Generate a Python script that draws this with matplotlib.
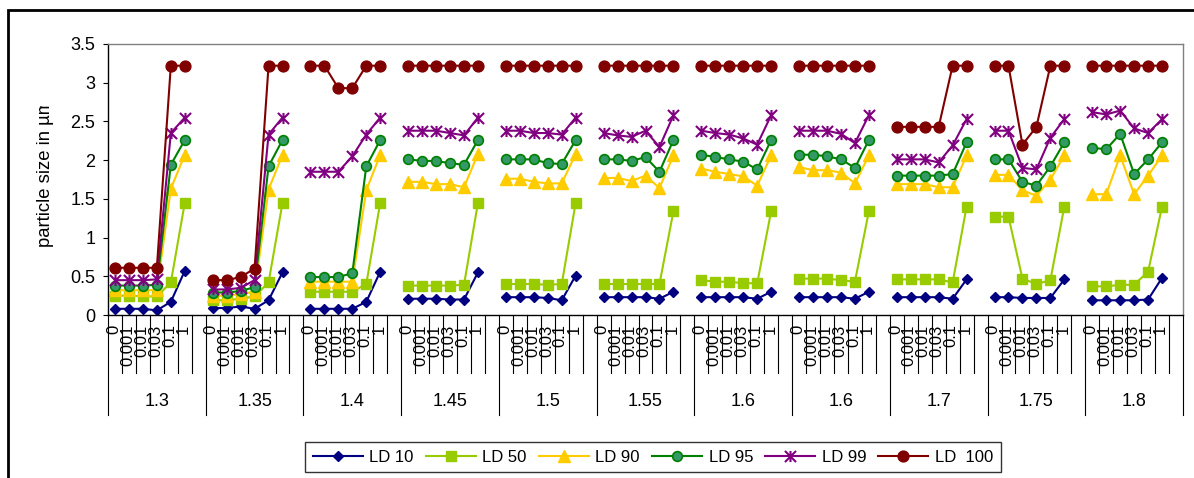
import numpy as np
import matplotlib
matplotlib.use("Agg")
import matplotlib.pyplot as plt
from matplotlib.path import Path
from matplotlib.patches import Rectangle

plt.rcParams['font.family'] = ['Liberation Sans', 'DejaVu Sans']

# Outer category (group) labels and inner category labels
groups = ["1.3", "1.35", "1.4", "1.45", "1.5", "1.55", "1.6", "1.6", "1.7", "1.75", "1.8"]
concentrations = ["0", "0.001", "0.01", "0.03", "0.1", "1", ""]

# Particle sizes (µm) for each group, one list of six values per group
ld10 = [
    [0.08, 0.08, 0.08, 0.06, 0.17, 0.57],
    [0.09, 0.09, 0.11, 0.08, 0.19, 0.55],
    [0.08, 0.08, 0.08, 0.08, 0.17, 0.56],
    [0.21, 0.21, 0.21, 0.20, 0.20, 0.55],
    [0.23, 0.23, 0.23, 0.22, 0.19, 0.51],
    [0.23, 0.23, 0.23, 0.23, 0.21, 0.30],
    [0.23, 0.23, 0.23, 0.23, 0.21, 0.30],
    [0.23, 0.23, 0.23, 0.23, 0.21, 0.30],
    [0.23, 0.23, 0.23, 0.23, 0.21, 0.46],
    [0.23, 0.23, 0.22, 0.22, 0.22, 0.46],
    [0.19, 0.19, 0.19, 0.19, 0.20, 0.48],
]
ld50 = [
    [0.25, 0.25, 0.24, 0.24, 0.42, 1.45],
    [0.19, 0.19, 0.21, 0.24, 0.42, 1.45],
    [0.30, 0.30, 0.30, 0.30, 0.40, 1.45],
    [0.38, 0.38, 0.38, 0.38, 0.39, 1.45],
    [0.40, 0.40, 0.40, 0.39, 0.40, 1.45],
    [0.40, 0.40, 0.40, 0.40, 0.40, 1.34],
    [0.45, 0.43, 0.43, 0.41, 0.41, 1.34],
    [0.47, 0.47, 0.47, 0.45, 0.43, 1.34],
    [0.46, 0.46, 0.46, 0.46, 0.42, 1.40],
    [1.27, 1.27, 0.47, 0.40, 0.45, 1.40],
    [0.37, 0.37, 0.39, 0.39, 0.56, 1.40],
]
ld90 = [
    [0.32, 0.32, 0.32, 0.32, 1.63, 2.07],
    [0.25, 0.25, 0.27, 0.30, 1.62, 2.07],
    [0.43, 0.43, 0.43, 0.43, 1.61, 2.07],
    [1.72, 1.72, 1.69, 1.69, 1.65, 2.08],
    [1.76, 1.76, 1.72, 1.70, 1.70, 2.08],
    [1.77, 1.77, 1.73, 1.80, 1.64, 2.06],
    [1.89, 1.85, 1.82, 1.79, 1.67, 2.06],
    [1.91, 1.87, 1.87, 1.84, 1.70, 2.06],
    [1.69, 1.69, 1.69, 1.65, 1.65, 2.06],
    [1.81, 1.81, 1.61, 1.54, 1.75, 2.06],
    [1.56, 1.56, 2.06, 1.56, 1.80, 2.06],
]
ld95 = [
    [0.38, 0.38, 0.38, 0.39, 1.94, 2.26],
    [0.29, 0.29, 0.31, 0.36, 1.92, 2.26],
    [0.49, 0.49, 0.49, 0.54, 1.92, 2.26],
    [2.01, 1.99, 1.99, 1.96, 1.94, 2.26],
    [2.01, 2.01, 2.01, 1.96, 1.95, 2.26],
    [2.01, 2.01, 1.99, 2.04, 1.85, 2.26],
    [2.07, 2.04, 2.01, 1.98, 1.88, 2.26],
    [2.07, 2.07, 2.05, 2.01, 1.90, 2.26],
    [1.80, 1.80, 1.80, 1.80, 1.82, 2.23],
    [2.01, 2.01, 1.72, 1.67, 1.92, 2.23],
    [2.16, 2.14, 2.34, 1.82, 2.01, 2.23],
]
ld99 = [
    [0.45, 0.45, 0.45, 0.46, 2.35, 2.55],
    [0.33, 0.33, 0.35, 0.45, 2.33, 2.55],
    [1.85, 1.85, 1.85, 2.05, 2.33, 2.55],
    [2.38, 2.38, 2.38, 2.35, 2.32, 2.55],
    [2.38, 2.38, 2.35, 2.35, 2.33, 2.55],
    [2.35, 2.32, 2.30, 2.38, 2.17, 2.58],
    [2.38, 2.35, 2.33, 2.28, 2.20, 2.58],
    [2.38, 2.38, 2.38, 2.34, 2.22, 2.58],
    [2.01, 2.01, 2.01, 1.97, 2.19, 2.53],
    [2.38, 2.38, 1.90, 1.88, 2.29, 2.53],
    [2.62, 2.59, 2.64, 2.41, 2.35, 2.53],
]
ld100 = [
    [0.61, 0.61, 0.61, 0.61, 3.22, 3.22],
    [0.45, 0.45, 0.49, 0.60, 3.22, 3.22],
    [3.22, 3.22, 2.93, 2.93, 3.22, 3.22],
    [3.22, 3.22, 3.22, 3.22, 3.22, 3.22],
    [3.22, 3.22, 3.22, 3.22, 3.22, 3.22],
    [3.22, 3.22, 3.22, 3.22, 3.22, 3.22],
    [3.22, 3.22, 3.22, 3.22, 3.22, 3.22],
    [3.22, 3.22, 3.22, 3.22, 3.22, 3.22],
    [2.43, 2.43, 2.43, 2.43, 3.22, 3.22],
    [3.22, 3.22, 2.20, 2.43, 3.22, 3.22],
    [3.22, 3.22, 3.22, 3.22, 3.22, 3.22],
]

# Excel-style asterisk: vertical bar plus an X
star = Path([(0, 1), (0, -1), (-1, 1), (1, -1), (-1, -1), (1, 1)],
            [Path.MOVETO, Path.LINETO, Path.MOVETO, Path.LINETO, Path.MOVETO, Path.LINETO])

series = [
    ("LD 10", ld10, dict(color="#000080", marker="D", ms=5.6, mfc="#000080", mec="#000080")),
    ("LD 50", ld50, dict(color="#99CC00", marker="s", ms=6.5, mfc="#99CC00", mec="#99CC00")),
    ("LD 90", ld90, dict(color="#FFCC00", marker="^", ms=8, mfc="#FFCC00", mec="#FFCC00")),
    ("LD 95", ld95, dict(color="#008000", marker="o", ms=7, mfc="#339966", mec="#008000", mew=1.2)),
    ("LD 99", ld99, dict(color="#800080", marker=star, ms=8, mfc="none", mec="#800080", mew=1.5)),
    ("LD  100", ld100, dict(color="#800000", marker="o", ms=7.8, mfc="#800000", mec="#800000")),
]

n_cat = len(concentrations)
n_grp = len(groups)

fig = plt.figure(figsize=(11.94, 4.78), dpi=100)
W, H = 1194, 478
ax = fig.add_axes([108 / W, 1 - 315 / H, (1183 - 108) / W, (315 - 44) / H])

# Outer chart border
fig.patches.append(Rectangle((8 / W, -0.05), 1.2, 1 - 10 / H + 0.05, transform=fig.transFigure,
                             fill=False, edgecolor="black", linewidth=2, zorder=0))

for name, data, style in series:
    y = []
    for vals in data:
        y.extend(vals + [np.nan] * (n_cat - len(vals)))
    x = np.arange(len(y))
    ax.plot(x, y, lw=1.5, label=name, **style)

ax.set_xlim(-0.5, n_cat * n_grp - 0.5)
ax.set_ylim(0, 3.5)
ax.set_yticks(np.arange(0, 3.51, 0.5))
ax.set_yticklabels(["0", "0.5", "1", "1.5", "2", "2.5", "3", "3.5"])
ax.tick_params(axis="y", direction="out", length=3.6, width=0.8, pad=5.5, labelsize=13)
ax.set_xticks([])
for s in ("top", "right"):
    ax.spines[s].set_color("#808080")
for s in ("left", "bottom"):
    ax.spines[s].set_color("black")
for s in ax.spines.values():
    s.set_linewidth(1)

# Multi-level category axis: cell boundaries, inner labels, group labels
xt = ax.get_xaxis_transform()
inner_bottom = -(373 - 315) / (315 - 44)
outer_bottom = -(415 - 315) / (315 - 44)
for g in range(n_grp):
    left = g * n_cat - 0.5
    ax.plot([left, left], [0, outer_bottom], transform=xt, color="black", lw=0.8, clip_on=False)
    for k in range(1, n_cat):
        ax.plot([left + k, left + k], [0, inner_bottom], transform=xt, color="black", lw=0.8, clip_on=False)
    for k, lab in enumerate(concentrations):
        if lab:
            ax.text(left + k + 0.4, -0.035, lab, transform=xt, rotation=90, ha="center", va="top",
                    fontsize=12)
    ax.text(left + n_cat / 2, -(401 - 315) / (315 - 44), groups[g], transform=xt,
            ha="center", va="center", fontsize=13)
end = n_grp * n_cat - 0.5
ax.plot([end, end], [0, outer_bottom], transform=xt, color="black", lw=0.8, clip_on=False)

# Axis title, cut off where its box ends
yl = fig.text(46 / W, 1 - 247 / H, "particle size in µm", rotation=90, rotation_mode="anchor",
              ha="left", va="center", fontsize=13.3)
clip_rect = Rectangle((0, 0), 0.2, 1 - 106 / H, transform=fig.transFigure)
yl.set_clip_path(clip_rect)
yl.set_clip_on(True)

leg = fig.legend(loc="center", bbox_to_anchor=(653 / W, 1 - 457 / H), ncol=6, fontsize=12,
                 frameon=True, fancybox=False, edgecolor="black", handlelength=3.0,
                 handletextpad=0.4, columnspacing=0.72, borderpad=0.45, borderaxespad=0)
leg.get_frame().set_linewidth(1)

fig.savefig("out.png", dpi=100)
